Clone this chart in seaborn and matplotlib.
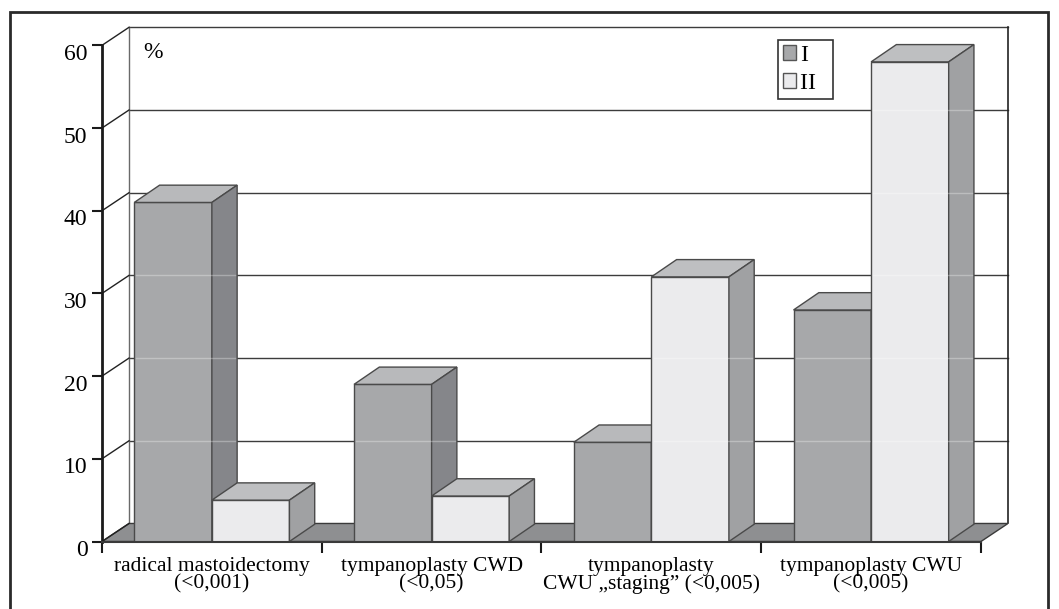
import numpy as np
import pandas as pd
import seaborn as sns
import matplotlib.pyplot as plt
import matplotlib.transforms as mtransforms
from matplotlib.patches import Polygon, Rectangle, Patch

plt.rcParams['font.family'] = ['Liberation Serif', 'DejaVu Serif']

categories = ['radical mastoidectomy\n(<0,001)',
              'tympanoplasty CWD\n(<0,05)',
              'tympanoplasty\nCWU \u201estaging\u201d (<0,005)',
              'tympanoplasty CWU\n(<0,005)']
group_I = [41, 19, 12, 28]
group_II = [5, 5.5, 32, 58]
y_ticks = [0, 10, 20, 30, 40, 50, 60]

front_cols = {'I': '#a7a8aa', 'II': '#ebebed'}
top_cols = {'I': '#b8b9bb', 'II': '#bebfc1'}
side_cols = {'I': '#85868a', 'II': '#a0a1a3'}

# depth offsets of the fake 3d box (data units)
DX, DY = 0.123, 2.18
BDX, BDY = 0.115, 2.09

df = pd.DataFrame({
    'category': categories * 2,
    'group': ['I'] * 4 + ['II'] * 4,
    'value': group_I + group_II,
})

fig = plt.figure(figsize=(10.59, 6.09), dpi=100)
ax = fig.add_axes([102 / 1059, (609 - 541.5) / 609, (1008 - 102) / 1059, (541.5 - 27.3) / 609])

sns.barplot(data=df, x='category', y='value', hue='group', palette=front_cols,
            width=0.706, edgecolor='#4a4a4a', linewidth=1, saturation=1,
            legend=False, ax=ax)
bars = sorted(ax.patches, key=lambda p: p.get_x())

ax.set_xlim(-0.5, 3.5 + DX)
ax.set_ylim(0, 60 + DY)
ax.set_xlabel('')
ax.set_ylabel('')

# floor
floor = Polygon([(-0.5, 0), (3.5, 0), (3.5 + DX, DY), (-0.5 + DX, DY)],
                closed=True, facecolor='#8e8f91', edgecolor='#3a3a3a', lw=1, zorder=1)
ax.add_patch(floor)

# back wall and side wall lines
for v in y_ticks:
    ax.plot([-0.5, -0.5 + DX], [v, v + DY], color='#222222', lw=1, zorder=1.5, clip_on=False)
    if v > 0:
        ax.plot([-0.5 + DX, 3.5 + DX], [v + DY, v + DY], color='#3c3c3c', lw=1,
                zorder=0.5, clip_on=False)
ax.plot([-0.5 + DX, -0.5 + DX], [DY, 60 + DY], color='#6a6a6a', lw=1, zorder=0.5, clip_on=False)
ax.plot([3.5 + DX, 3.5 + DX], [DY, 60 + DY], color='#222222', lw=1.2, zorder=0.5, clip_on=False)

# bar boxes, drawn left to right
for i, p in enumerate(bars):
    x0, w, h = p.get_x(), p.get_width(), p.get_height()
    g = 'I' if p.get_facecolor()[0] < 0.8 else 'II'
    z = 3 + i * 0.1
    p.set_zorder(z)
    top = Polygon([(x0, h), (x0 + w, h), (x0 + w + BDX, h + BDY), (x0 + BDX, h + BDY)],
                  closed=True, facecolor=top_cols[g], edgecolor='#4a4a4a', lw=1, zorder=z)
    side = Polygon([(x0 + w, 0), (x0 + w + BDX, BDY), (x0 + w + BDX, h + BDY), (x0 + w, h)],
                   closed=True, facecolor=side_cols[g], edgecolor='#4a4a4a', lw=1, zorder=z)
    ax.add_patch(top)
    ax.add_patch(side)
    for v in y_ticks[1:]:
        if v + DY < h:
            ax.plot([x0 + 0.01, x0 + w + BDX - 0.01], [v + DY, v + DY], color='white',
                    alpha=0.3, lw=1, zorder=z + 0.05)

# axes
for s in ['top', 'right']:
    ax.spines[s].set_visible(False)
ax.spines['left'].set_bounds(0, 60)
ax.spines['left'].set_linewidth(2)
ax.spines['left'].set_color('#1a1a1a')
ax.spines['bottom'].set_bounds(-0.5, 3.5)
ax.spines['bottom'].set_linewidth(1.5)
ax.spines['bottom'].set_color('#3a3a3a')
ax.spines['left'].set_zorder(6)
ax.spines['bottom'].set_zorder(6)

ax.set_yticks(y_ticks)
ax.set_yticklabels([str(v) for v in y_ticks], fontsize=17)
ax.tick_params(axis='y', direction='out', length=7, width=1.5, pad=3.5, color='#1a1a1a')
shift = mtransforms.ScaledTranslation(0, -6.5 / 100, fig.dpi_scale_trans)
for lab in ax.get_yticklabels():
    lab.set_transform(lab.get_transform() + shift)

ax.set_xticks(range(4))
ax.set_xticklabels(categories, fontsize=15.5, linespacing=0.88)
ax.tick_params(axis='x', which='major', length=0, pad=11)
ax.set_xticks(np.arange(-0.5, 4, 1), minor=True)
ax.tick_params(axis='x', which='minor', direction='out', length=8, width=1.5, color='#1a1a1a')

ax.text(-0.5 + DX + 0.0636, 60 + DY - 3.72, '%', fontsize=17, va='baseline', ha='left')

handles = [Patch(facecolor=front_cols['I'], edgecolor='#555555'),
           Patch(facecolor=front_cols['II'], edgecolor='#555555')]
leg = ax.legend(handles, ['I', 'II  '], loc='upper left',
                bbox_to_anchor=(778 / 1059, 1 - 40 / 609), bbox_transform=fig.transFigure,
                frameon=True, fancybox=False, edgecolor='#333333', framealpha=1,
                borderpad=0.22, handlelength=0.55, handleheight=0.6, handletextpad=0.15,
                labelspacing=0.3, fontsize=17, borderaxespad=0)
leg.get_frame().set_linewidth(1.2)
leg.set_zorder(20)

# outer frame
fig.add_artist(Rectangle((9.5 / 1059, -0.1), (1048 - 9.5) / 1059, 1.1 - 11.7 / 609,
                         transform=fig.transFigure, fill=False, lw=2, edgecolor='#2a2a2a'))

fig.savefig('out.png', dpi=100)
